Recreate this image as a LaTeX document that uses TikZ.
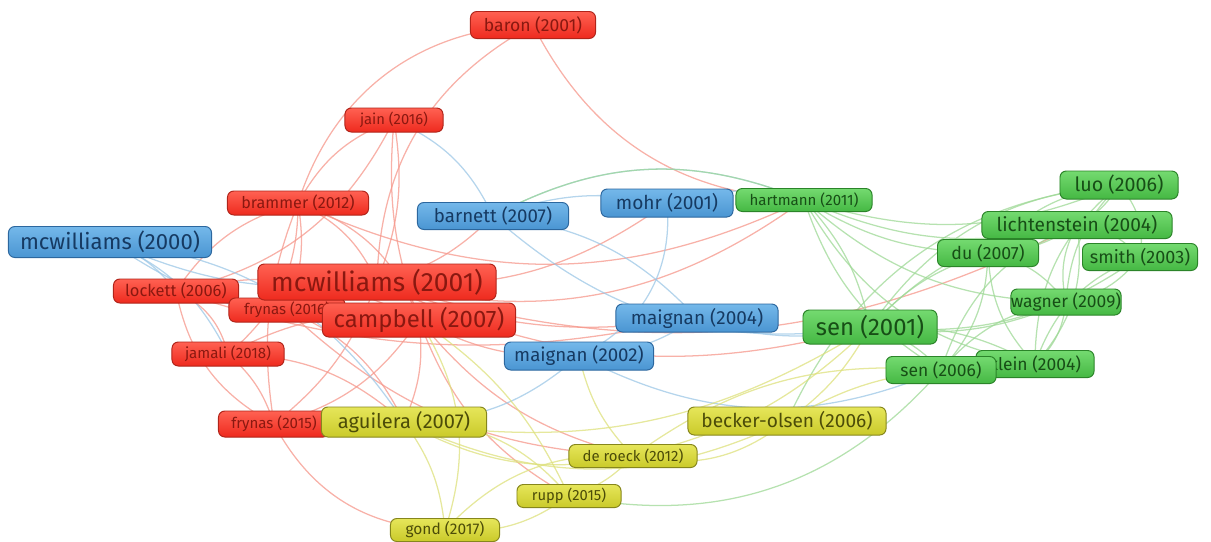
\documentclass[tikz,border=0pt]{standalone}
\usepackage{fontspec}
\setmainfont{Fira Sans}
\usepackage{xcolor}
\usetikzlibrary{backgrounds}

\definecolor{redtop}{HTML}{FF6152}
\definecolor{redbot}{HTML}{EE2A1E}
\definecolor{rededge}{HTML}{B0241A}
\definecolor{redtext}{HTML}{8A1810}
\definecolor{bluetop}{HTML}{74B8EA}
\definecolor{bluebot}{HTML}{4A95D2}
\definecolor{blueedge}{HTML}{2C679E}
\definecolor{bluetext}{HTML}{163A62}
\definecolor{greentop}{HTML}{74DA70}
\definecolor{greenbot}{HTML}{45B843}
\definecolor{greenedge}{HTML}{2B8429}
\definecolor{greentext}{HTML}{174E16}
\definecolor{yellowtop}{HTML}{E6E65A}
\definecolor{yellowbot}{HTML}{CACA2A}
\definecolor{yellowedge}{HTML}{86861C}
\definecolor{yellowtext}{HTML}{4C4C08}
\definecolor{redlink}{HTML}{F5978B}
\definecolor{bluelink}{HTML}{9CC7E6}
\definecolor{greenlink}{HTML}{9ED896}
\definecolor{yellowlink}{HTML}{DDE07C}

\begin{document}
\begin{tikzpicture}[x=0.025cm, y=-0.025cm,
    every node/.style={draw, rounded corners=4.5pt, line width=0.7pt, inner sep=0pt},
    sz/.style 2 args={minimum width=#1*0.7113pt, minimum height=#2*0.7113pt},
    fs/.style={font=\fontsize{#1}{#1}\selectfont},
    redbox/.style={top color=redtop, bottom color=redbot, draw=rededge, text=redtext},
    bluebox/.style={top color=bluetop, bottom color=bluebot, draw=blueedge, text=bluetext},
    greenbox/.style={top color=greentop, bottom color=greenbot, draw=greenedge, text=greentext},
    yellowbox/.style={top color=yellowtop, bottom color=yellowbot, draw=yellowedge, text=yellowtext},
    link/.style={line width=0.9pt, draw opacity=0.75}
]
    % Frame
    \useasboundingbox (0,0) rectangle (1211,541);

    % Red cluster
    \node[redbox, sz={125}{27}, fs=12.5] (baron) at (533,25) {baron (2001)};
    \node[redbox, sz={98}{24}, fs=10.5] (jain) at (394,120) {jain (2016)};
    \node[redbox, sz={141}{24}, fs=11.5] (brammer) at (298,203) {brammer (2012)};
    \node[redbox, sz={125}{24}, fs=11.7] (lockett) at (176,291) {lockett (2006)};
    \node[redbox, sz={116}{24}, fs=10.7] (frynas16) at (287,310) {frynas (2016)};
    \node[redbox, sz={112}{24}, fs=10.7] (jamali) at (228,354) {jamali (2018)};
    \node[redbox, sz={111}{26}, fs=10.7] (frynas15) at (274,424) {frynas (2015)};
    \node[redbox, sz={238}{36}, fs=18.8] (mcw01) at (377,282) {mcwilliams (2001)};
    \node[redbox, sz={193}{34}, fs=17] (campbell) at (419,320) {campbell (2007)};

    % Blue cluster
    \node[bluebox, sz={203}{31}, fs=15.7] (mcw00) at (110,242) {mcwilliams (2000)};
    \node[bluebox, sz={151}{27}, fs=13.3] (barnett) at (493,216) {barnett (2007)};
    \node[bluebox, sz={132}{28}, fs=13.6] (mohr) at (667,203) {mohr (2001)};
    \node[bluebox, sz={162}{28}, fs=13.5] (maignan04) at (697,318) {maignan (2004)};
    \node[bluebox, sz={149}{28}, fs=13.3] (maignan02) at (579,356) {maignan (2002)};

    % Green cluster
    \node[greenbox, sz={136}{23}, fs=10.7] (hartmann) at (804,200) {hartmann (2011)};
    \node[greenbox, sz={118}{28}, fs=14] (luo) at (1119,185) {luo (2006)};
    \node[greenbox, sz={190}{27}, fs=13.6] (lichtenstein) at (1077,225) {lichtenstein (2004)};
    \node[greenbox, sz={101}{27}, fs=12.6] (du) at (988,253) {du (2007)};
    \node[greenbox, sz={115}{27}, fs=12.8] (smith) at (1140,257) {smith (2003)};
    \node[greenbox, sz={109}{26}, fs=12.4] (wagner) at (1066,302) {wagner (2009)};
    \node[greenbox, sz={134}{34}, fs=17] (sen01) at (870,327) {sen (2001)};
    \node[greenbox, sz={118}{27}, fs=12.4] (klein) at (1035,364) {klein (2004)};
    \node[greenbox, sz={110}{27}, fs=12.4] (sen06) at (941,370) {sen (2006)};

    % Yellow cluster
    \node[yellowbox, sz={165}{30}, fs=14.3] (aguilera) at (404,422) {aguilera (2007)};
    \node[yellowbox, sz={198}{28}, fs=13.6] (becker) at (787,421) {becker-olsen (2006)};
    \node[yellowbox, sz={128}{23}, fs=10.6] (deroeck) at (633,456) {de roeck (2012)};
    \node[yellowbox, sz={104}{23}, fs=10.5] (rupp) at (569,496) {rupp (2015)};
    \node[yellowbox, sz={109}{23}, fs=11] (gond) at (445,530) {gond (2017)};

    % Links
    \begin{scope}[on background layer]
        \foreach \a/\b/\ang in {baron/brammer/-35, baron/mcw01/-30, baron/hartmann/-30,
            jain/brammer/-20, jain/mcw01/15, jain/campbell/-12, jain/lockett/25,
            brammer/mcw01/20, brammer/campbell/25, brammer/lockett/-20, brammer/frynas16/15,
            brammer/jamali/25, brammer/frynas15/-15, brammer/hartmann/-25,
            lockett/mcw01/-18, lockett/campbell/20, lockett/frynas15/-25, lockett/jamali/25,
            lockett/maignan04/-15, jamali/campbell/18, jamali/frynas15/15, jamali/aguilera/20,
            frynas15/gond/-30, frynas15/campbell/-20, frynas15/mcw01/-15, frynas16/campbell/15,
            frynas16/aguilera/20, frynas16/deroeck/-20, campbell/aguilera/15, campbell/deroeck/-18,
            campbell/maignan02/-15, campbell/rupp/-20, mcw01/barnett/-15, mcw01/maignan04/-15,
            mcw01/sen01/-20, mcw01/mohr/-20, mcw01/hartmann/-25, mcw01/lichtenstein/-22}
            \draw[link, draw=redlink] (\a.center) to[bend left=\ang] (\b.center);
        \foreach \a/\b/\ang in {mcw00/lockett/15, mcw00/mcw01/-15, mcw00/campbell/-20,
            mcw00/aguilera/25, mcw00/jamali/20, jain/barnett/20, barnett/mohr/15,
            barnett/maignan04/20, barnett/sen01/-25, barnett/hartmann/25, mohr/maignan02/35,
            mohr/hartmann/15, maignan04/maignan02/15, maignan04/sen01/-15, maignan02/sen06/-25,
            aguilera/maignan02/-20}
            \draw[link, draw=bluelink] (\a.center) to[bend left=\ang] (\b.center);
        \foreach \a/\b/\ang in {hartmann/sen01/15, hartmann/sen06/-20, hartmann/du/-15,
            hartmann/lichtenstein/-18, hartmann/wagner/-20, hartmann/klein/-25, hartmann/luo/-20,
            hartmann/barnett/-25, sen01/du/15, sen01/luo/25, sen01/lichtenstein/20, sen01/smith/-20,
            sen01/wagner/-15, sen01/klein/15, sen01/sen06/15, luo/lichtenstein/15, luo/du/-20,
            luo/wagner/-20, luo/smith/25, luo/klein/-25, lichtenstein/du/15, lichtenstein/smith/20,
            lichtenstein/wagner/-20, lichtenstein/klein/25, lichtenstein/sen06/-25,
            du/wagner/20, du/klein/-20, du/sen06/20, smith/wagner/20, smith/klein/-25,
            wagner/klein/20, wagner/sen06/-20, becker/luo/30, rupp/sen06/-30}
            \draw[link, draw=greenlink] (\a.center) to[bend left=\ang] (\b.center);
        \foreach \a/\b/\ang in {aguilera/deroeck/-20, aguilera/rupp/25, aguilera/gond/15,
            aguilera/becker/-25, aguilera/sen01/-20, deroeck/becker/-25, deroeck/rupp/15,
            deroeck/gond/-25, deroeck/sen01/-15, deroeck/sen06/20, deroeck/maignan02/15,
            rupp/gond/20, rupp/campbell/-15, becker/sen01/-12, becker/sen06/12, gond/campbell/-25}
            \draw[link, draw=yellowlink] (\a.center) to[bend left=\ang] (\b.center);
    \end{scope}

\end{tikzpicture}
\end{document}
